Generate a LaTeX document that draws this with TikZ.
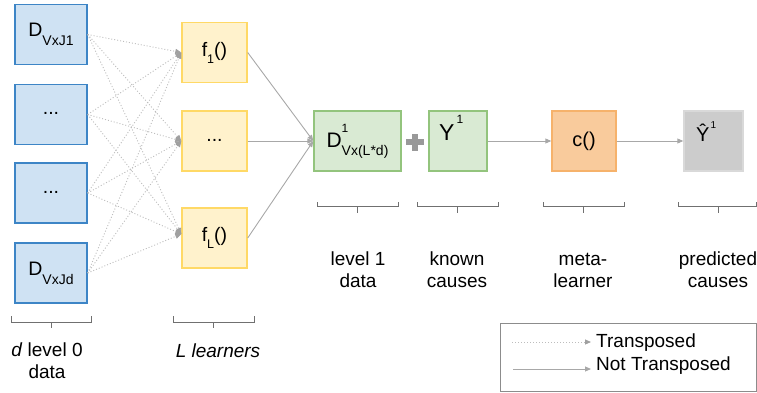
\documentclass[tikz,border=0pt]{standalone}
\usepackage{fontspec}
\setmainfont{Liberation Sans}
\usetikzlibrary{arrows.meta,calc}
\definecolor{bluefill}{HTML}{CFE2F3}
\definecolor{blueline}{HTML}{3D85C6}
\definecolor{yelfill}{HTML}{FFF2CC}
\definecolor{yelline}{HTML}{FFD966}
\definecolor{grnfill}{HTML}{D9EAD3}
\definecolor{grnline}{HTML}{93C47D}
\definecolor{orfill}{HTML}{F9CB9C}
\definecolor{orline}{HTML}{F6B26B}
\definecolor{gyfill}{HTML}{CCCCCC}
\definecolor{gyline}{HTML}{D9D9D9}
\definecolor{arrowgray}{HTML}{A8A8A8}
\definecolor{dotgray}{HTML}{BDBDBD}
\definecolor{tipgray}{HTML}{A0A0A0}
\definecolor{bracegray}{HTML}{707070}
\definecolor{plusgray}{HTML}{999999}
\definecolor{legline}{HTML}{8C8C8C}
\newcommand{\fsz}[1]{\fontsize{#1}{#1}\selectfont}
\begin{document}
\begin{tikzpicture}[x=1pt,y=-1pt,
  box/.style={draw, line width=1.4pt, inner sep=0pt, minimum height=60pt, font=\fsz{19.5}},
  blbox/.style={box, fill=bluefill, draw=blueline, minimum width=72pt},
  ylbox/.style={box, fill=yelfill, draw=yelline, minimum width=65pt},
  grbox/.style={box, fill=grnfill, draw=grnline},
  orbox/.style={box, fill=orfill, draw=orline, minimum width=64pt},
  gybox/.style={box, fill=gyfill, draw=gyline, minimum width=59pt},
  flat/.style={text height=0pt, text depth=0pt},
  tarrow/.style={draw=dotgray, line width=0.9pt, dash pattern=on 1pt off 2pt,
    -{Triangle[length=6pt,width=5pt,color=tipgray]}},
  narrow/.style={draw=arrowgray, line width=0.9pt,
    -{Triangle[length=6pt,width=5pt,color=arrowgray]}},
  brace/.style={draw=bracegray, line width=0.8pt},
  lbl/.style={font=\fontsize{19}{22}\selectfont, align=center, anchor=base, inner sep=0pt},
  txt/.style={font=\fsz{19}, inner sep=0pt}
]
\useasboundingbox (0,0) rectangle (757,393);

% level 0 data
\node[blbox] (b1) at (51,34.5) {D\raisebox{-9pt}{\fsz{14}VxJ1}};
\node[blbox, flat] (b2) at (51,114.5) {...};
\node[blbox, flat] (b3) at (51,193) {...};
\node[blbox] (b4) at (51,273) {D\raisebox{-9pt}{\fsz{14}VxJd}};

% learners
\node[ylbox] (y1) at (214.5,52.5) {f\raisebox{-7pt}{\fsz{12.5}1}()};
\node[ylbox, flat] (y2) at (214.5,141) {...};
\node[ylbox] (y3) at (214.5,238) {f\raisebox{-7pt}{\fsz{12.5}L}()};

% level 1
\node[grbox, minimum width=87pt, font=\fsz{21}] (g1) at (357.5,141)
  {D\rlap{\raisebox{15pt}{\fsz{12}1}}\raisebox{-8pt}{\fsz{14}Vx(L*d)}};
\node[grbox, minimum width=58pt] (g2) at (458,141) {};
\node[txt, font=\fsz{23}, anchor=base west] (g2t) at (439,140)
  {Y\hspace{2pt}\raisebox{17pt}{\fsz{12}1}};

\node[orbox, font=\fsz{20}] (c) at (584,141) {c()};
\node[gybox] (p) at (713.5,141) {};
\node[txt, anchor=base west, font=\fsz{20}] (pt) at (696,141)
  {Ŷ\hspace{1pt}\raisebox{13pt}{\fsz{10}1}};

% plus sign
\node[inner sep=0pt, minimum size=0pt] (plus) at (415,142) {};
\fill[plusgray] ($(plus)+(-9,-3)$) rectangle ($(plus)+(9,3)$);
\fill[plusgray] ($(plus)+(-3,-8.5)$) rectangle ($(plus)+(3,8.5)$);

% transposed connectors
\foreach \s in {b1,b2,b3,b4}{
  \draw[tarrow] (\s.east) -- (y1.west);
  \draw[tarrow] (\s.east) -- (y2.west);
  \draw[tarrow] (\s.east) -- ([yshift=4pt]y3.west);
}
% not transposed
\draw[narrow] (y1.east) -- (g1.west);
\draw[narrow] (y2.east) -- (g1.west);
\draw[narrow] (y3.east) -- (g1.west);
\draw[narrow] (g2.east) -- (c.west);
\draw[narrow] (c.east) -- (p.west);

% braces
\draw[brace] (11,316) -- (11,322) -- (91,322) -- (91,316) (51,322) -- (51,328);
\draw[brace] (173,316) -- (173,322) -- (254,322) -- (254,316) (213.5,322) -- (213.5,328);
\draw[brace] (317,202) -- (317,206) -- (398,206) -- (398,202) (357.5,206) -- (357.5,213);
\draw[brace] (417,202) -- (417,206) -- (498,206) -- (498,202) (457.5,206) -- (457.5,213);
\draw[brace] (543,202) -- (543,206) -- (624,206) -- (624,202) (583.5,206) -- (583.5,213);
\draw[brace] (678,202) -- (678,206) -- (756,206) -- (756,202) (718,206) -- (718,213);

% labels (base anchor = baseline of last line)
\node[lbl] (l0) at (47,378) {\textit{d} level 0\\data};
\node[lbl] (ll) at (218,357) {\textit{L learners}};
\node[lbl] (l1) at (358,287) {level 1\\data};
\node[lbl] (lk) at (457,287) {known\\causes};
\node[lbl] (lm) at (583,287) {meta-\\learner};
\node[lbl] (lp) at (718,287) {predicted\\causes};

% legend
\node[draw=legline, line width=0.8pt, minimum width=256pt, minimum height=68pt, inner sep=0pt] (leg) at (628,357) {};
\coordinate (ta) at (512,342);
\coordinate (tb) at (591,342);
\coordinate (na) at (513,369);
\coordinate (nb) at (591,369);
\draw[tarrow] (ta) -- (tb);
\draw[narrow] (na) -- (nb);
\node[txt, anchor=base west] (lt) at (596,347) {Transposed};
\node[txt, anchor=base west] (ln) at (596,370) {Not Transposed};
\end{tikzpicture}
\end{document}
